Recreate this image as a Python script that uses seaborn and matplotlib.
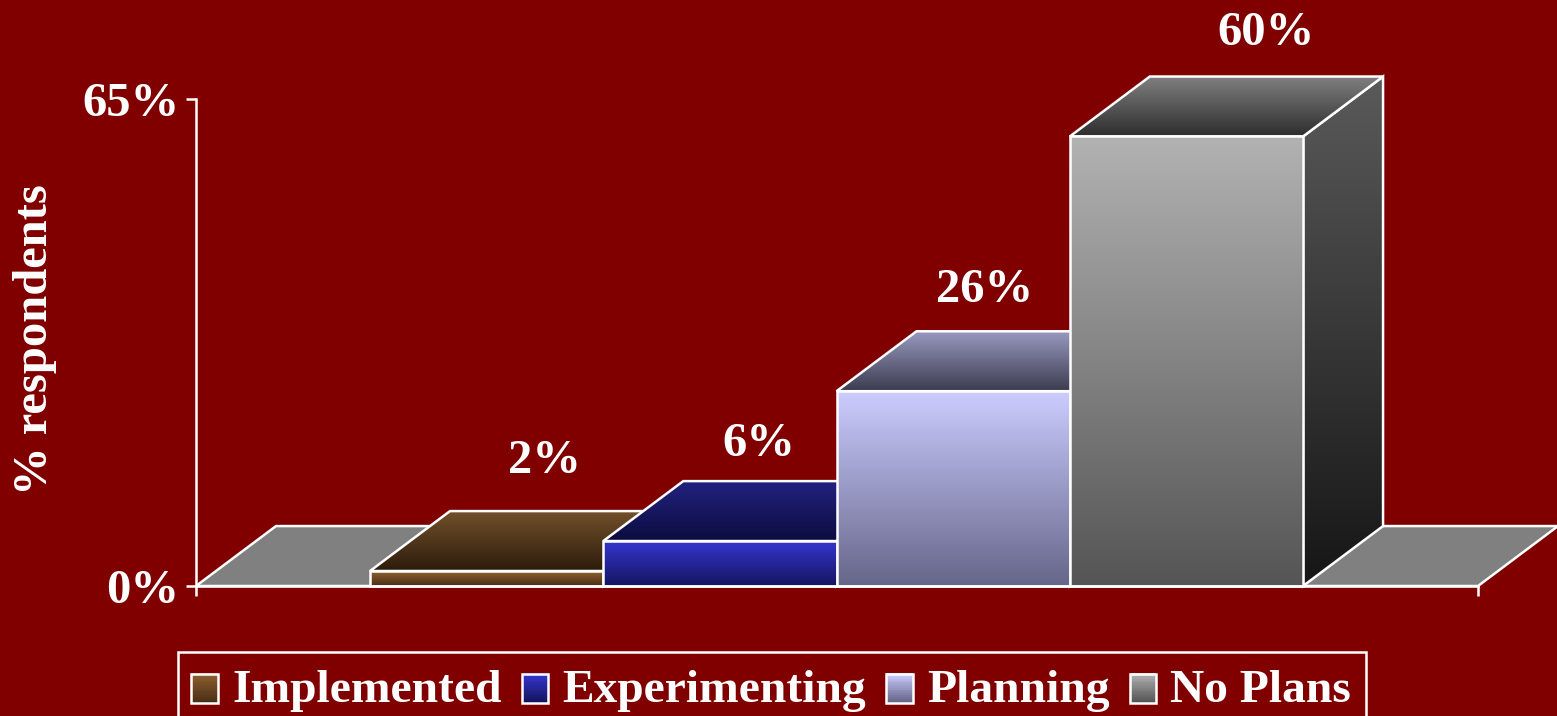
import numpy as np
import pandas as pd
import matplotlib
matplotlib.use("Agg")
import matplotlib.pyplot as plt
import seaborn as sns
from matplotlib.colors import to_rgb
from matplotlib.legend_handler import HandlerBase
from matplotlib.patches import Patch, Polygon, Rectangle

# Survey results
categories = ["Implemented", "Experimenting", "Planning", "No Plans"]
values = [2, 6, 26, 60]
value_labels = ["2%", "6%", "26%", "60%"]
axis_ticks = [0, 65]
axis_tick_labels = ["0%", "65%"]

# Shading per bar: (start, end) colours from top to bottom of each face
front_shades = [("#8f6030", "#4a2f15"), ("#3535d0", "#151560"),
                ("#ccccff", "#66668a"), ("#b2b2b2", "#555555")]
top_shades = [("#72502a", "#2c1c0c"), ("#22227f", "#0c0c40"),
              ("#9999c0", "#3c3c50"), ("#808080", "#2e2e2e")]
side_shades = [("#3a2510", "#1a1006"), ("#15154c", "#0a0a28"),
               ("#66668a", "#30304a"), ("#5a5a5a", "#161616")]

BACKGROUND = "#800000"
FLOOR = "#808080"
LINE = "white"
LW = 1.8
FONT = 35
LEGEND_FONT = 34.2

# Extrusion of the pseudo-3D bars, in data units
DEPTH_X = 0.343
DEPTH_Y = 8.0

# Value label offsets from the bar's top centre, in pixels
label_offsets = [(58, 50), (39, 37), (31, 41), (80, 44)]

sns.set_theme(style="white")
plt.rcParams["font.family"] = ["Liberation Serif", "DejaVu Serif"]
plt.rcParams["font.weight"] = "bold"

W, H = 1557, 716
fig = plt.figure(figsize=(W / 100, H / 100), dpi=100, facecolor=BACKGROUND)
ax = fig.add_axes([196 / W, 1 - 586 / H, (1478 - 196) / W, (586 - 99) / H],
                  facecolor="none")

table = pd.DataFrame({"status": categories, "share": values})
sns.barplot(data=table, x="status", y="share", hue="status",
            palette=[s[0] for s in front_shades], order=categories,
            width=1.0, legend=False, ax=ax, zorder=20)

x_min, x_max = -1.246, 4.25
ax.set_xlim(x_min, x_max)
ax.set_ylim(axis_ticks[0], axis_ticks[1])


def shaded_polygon(vertices, colours, zorder):
    """Fill a polygon with a vertical gradient and a white outline."""
    vertices = np.asarray(vertices, dtype=float)
    outline = Polygon(vertices, closed=True, facecolor="none", edgecolor=LINE,
                      linewidth=LW, clip_on=False, zorder=zorder + 0.5,
                      joinstyle="miter")
    ax.add_patch(outline)
    top, bottom = np.array(to_rgb(colours[0])), np.array(to_rgb(colours[1]))
    ramp = np.linspace(0, 1, 128)[:, None, None]
    pixels = top[None, None, :] * (1 - ramp) + bottom[None, None, :] * ramp
    extent = (vertices[:, 0].min(), vertices[:, 0].max(),
              vertices[:, 1].min(), vertices[:, 1].max())
    image = ax.imshow(pixels, extent=extent, origin="upper", aspect="auto",
                      interpolation="bilinear", zorder=zorder)
    image.set_clip_path(outline)
    # Faces reach beyond the axes box, so only the figure limits the image
    image.set_clip_box(fig.bbox)


# Floor of the chart, running behind every bar
shaded_polygon([(x_min, 0), (x_max, 0), (x_max + DEPTH_X, DEPTH_Y),
                (x_min + DEPTH_X, DEPTH_Y)], (FLOOR, FLOOR), 1)

# Extrude each bar; later bars sit in front of the earlier ones' sides
for i, bar in enumerate(ax.patches[:len(categories)]):
    left, right = bar.get_x(), bar.get_x() + bar.get_width()
    height = bar.get_height()
    base = 3 + 3 * i
    shaded_polygon([(right, 0), (right + DEPTH_X, DEPTH_Y),
                    (right + DEPTH_X, height + DEPTH_Y), (right, height)],
                   side_shades[i], base)
    shaded_polygon([(left, height), (right, height),
                    (right + DEPTH_X, height + DEPTH_Y),
                    (left + DEPTH_X, height + DEPTH_Y)], top_shades[i], base + 1)
    shaded_polygon([(left, 0), (right, 0), (right, height), (left, height)],
                   front_shades[i], base + 2)
    bar.set_visible(False)

    dx, dy = label_offsets[i]
    ax.annotate(value_labels[i], xy=((left + right) / 2, height + DEPTH_Y),
                xytext=(dx * 0.72, dy * 0.72), textcoords="offset points",
                ha="center", va="center", color=LINE, fontsize=FONT,
                fontweight="bold", annotation_clip=False, zorder=40)

# Axes
sns.despine(ax=ax, top=True, right=True)
for side in ("left", "bottom"):
    ax.spines[side].set_color(LINE)
    ax.spines[side].set_linewidth(LW)
    ax.spines[side].set_zorder(30)
ax.set_yticks(axis_ticks, axis_tick_labels)
ax.set_xticks([x_min, x_max], ["", ""])
ax.tick_params(axis="both", which="major", length=7.2, width=LW, color=LINE,
               labelcolor=LINE, labelsize=FONT, left=True, bottom=True, pad=5)
ax.set_xlabel("")
ax.set_ylabel("% respondents", color=LINE, fontsize=FONT, fontweight="bold")
ax.yaxis.set_label_coords((57 - 196) / (1478 - 196), (586 - 340) / (586 - 99))


# Legend swatches carry the same vertical shading as the bars' fronts
class ShadedSwatch(Patch):
    def __init__(self, colours, **kwargs):
        super().__init__(**kwargs)
        self.colours = colours


class ShadedSwatchHandler(HandlerBase):
    def create_artists(self, legend, orig_handle, xdescent, ydescent, width,
                       height, fontsize, trans):
        top = np.array(to_rgb(orig_handle.colours[0]))
        bottom = np.array(to_rgb(orig_handle.colours[1]))
        x0, y0 = -xdescent, -ydescent - 2
        artists = []
        n = 16
        for k in range(n):
            t = k / (n - 1)
            artists.append(Rectangle(
                (x0, y0 + height * (1 - (k + 1) / n)), width, height / n + 0.3,
                facecolor=top * (1 - t) + bottom * t, edgecolor="none",
                transform=trans))
        artists.append(Rectangle((x0, y0), width, height, facecolor="none",
                                 edgecolor=LINE, linewidth=LW, transform=trans))
        return artists


handles = [ShadedSwatch(shade, label=name)
           for shade, name in zip(front_shades, categories)]
legend = ax.legend(handles=handles, labels=categories, ncol=4,
                   handler_map={ShadedSwatch: ShadedSwatchHandler()},
                   loc="upper left",
                   bbox_to_anchor=(178 / W, 1 - 657 / H),
                   bbox_transform=fig.transFigure, borderaxespad=0,
                   labelcolor=LINE, frameon=False,
                   handlelength=0.56, handleheight=0.56, handletextpad=0.3,
                   columnspacing=0.42, borderpad=0.28,
                   prop={"size": LEGEND_FONT, "weight": "bold",
                         "family": "Liberation Serif"})
legend.set_zorder(50)

# Legend frame runs off the bottom edge of the figure
fig.add_artist(Rectangle((178 / W, -20 / H), (1366 - 178) / W, (84) / H,
                         transform=fig.transFigure, facecolor="none",
                         edgecolor=LINE, linewidth=LW))

fig.savefig("out.png", dpi=100, facecolor=BACKGROUND)
